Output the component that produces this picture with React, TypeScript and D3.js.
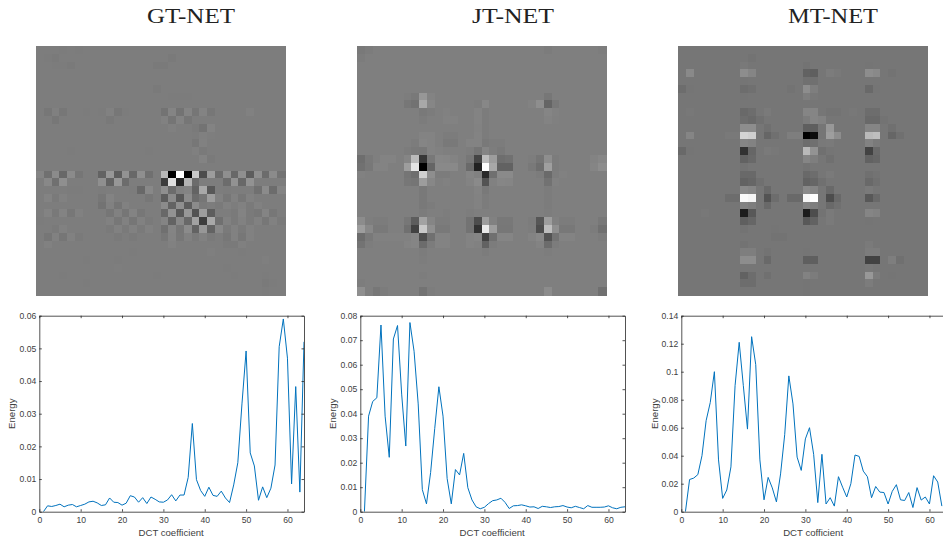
import * as d3 from 'd3';
import { useEffect, useRef } from 'react';

// heat map cells: one entry per row, grey offset from the panel background, by column
const gtRows: any[] = [
  { 3: -2, 5: -3 },
  { 1: -3, 2: -5, 17: -4 },
  { 2: -3, 3: -2, 4: -4, 15: -4, 16: -4 },
  {},
  {},
  { 15: -4 },
  { 17: -3, 18: -3, 19: -3 },
  {},
  { 1: -8, 2: 4, 3: -8, 6: -3, 8: -3, 9: 5, 10: -8, 11: -3, 16: -15, 17: 10, 18: -15, 19: 10, 20: -10, 21: 8, 22: -8, 27: 5 },
  { 2: -8, 9: -6, 16: 6, 17: -12, 18: 8, 19: -10 },
  { 17: 4, 20: -5, 21: -15, 22: 8 },
  { 20: -3, 21: 4, 22: 2 },
  { 20: -8, 21: 5 },
  { 4: -3, 14: -3, 20: 4, 21: -4 },
  { 21: 8, 22: -5 },
  {},
  [10, -20, 20, -30, 20, -10, 0, 0, -35, 35, -40, 30, -30, 25, -20, 0, 65, -125, 130, -125, 80, -55, 40, -25, 25, -30, 25, -40, 25, -25, 20, -15],
  [0, 15, -20, 25, 0, 0, 0, 0, 25, -35, 35, -25, 0, 0, 0, 0, -70, 100, -90, 60, -25, 0, 0, 0, -25, 30, -30, 30, 0, 0, 0, 0],
  [0, 0, 0, 0, -3, -3, 0, 0, -3, 0, 0, 0, -3, -30, 15, 0, 25, -25, 5, 10, -35, 50, -45, 0, -3, 0, 0, 0, -20, 20, -25, 10],
  [0, 8, -4, 6, 0, 0, 0, 0, -8, 8, 0, 0, 0, 0, -8, 0, -40, 20, -45, 20, -25, -10, 40, 5, -8, 5, -8, 5, 0, 0, 0, 0],
  [0, 0, 0, 0, 0, 0, 0, 0, -15, 5, -12, 5, 0, 0, 0, 0, 20, -35, 25, -40, 20, -5, 0, -5, 5, 0, 5, -5, 5, 0, 0, 0],
  [0, 8, -6, 8, -8, 6, 0, 0, 0, -10, 5, -10, 8, -8, 0, 0, -30, 30, -45, 35, -50, 40, -40, 0, 0, -5, 8, -5, -8, 10, -8, 0],
  [-2, 0, 0, 0, 0, 0, 0, 0, 0, 5, -8, 5, -10, 5, -5, 0, 10, -35, 15, -30, 45, -70, 50, -20, 5, -5, 5, -5, 5, -8, 5, -5],
  [0, 0, -5, 5, 0, 0, 0, 0, 0, -5, 5, -5, 5, -5, 5, 0, -20, 10, -10, 20, -35, 35, -35, 15, -5, 5, -5, 5, 0, 0, 0, 0],
  [0, -10, 5, -10, 5, -5, 0, 0, 0, 0, -5, 0, -5, 0, 0, 0, -8, 8, -8, 5, -5, 5, -5, 0, -8, 5, -8, 5, 0, 0, 0, 0],
  { 1: 6, 17: 6, 24: -4, 25: -4, 26: 4 },
  { 12: -3, 22: 3, 26: -3 },
  { 6: -3, 10: -3, 29: 3 },
  { 10: 2, 24: -3 },
  { 3: -3, 15: -2, 25: -3, 29: -3 },
  { 6: -3, 29: -4, 30: -3 },
  { 29: -3 },
];

const jtRows: any[] = [
  { 0: -8, 1: -5, 24: -5, 31: -3 },
  { 0: -4 },
  {},
  {},
  {},
  {},
  { 6: -3, 7: -8, 8: 33, 9: 5, 24: -12 },
  { 6: -12, 7: -18, 8: 48, 9: 10, 15: -3, 16: 12, 22: 4, 23: 22, 24: -35, 25: -10 },
  { 8: -8, 9: -6, 11: 3, 15: 6, 16: -5, 24: 8, 25: 3 },
  { 8: -5, 11: 4, 12: 4, 15: 6, 16: -6, 24: 5, 25: 2 },
  { 15: 4, 16: -5 },
  { 8: 5, 9: 5, 11: -6, 12: -6, 15: 5, 16: -5 },
  { 7: -5, 8: 8, 9: 6, 11: -8, 12: -8, 14: 5, 15: 5, 16: -8, 17: -6, 18: -4 },
  { 6: -5, 7: -8, 8: -10, 9: 5, 10: 3, 14: -3, 15: -15, 16: 8, 17: -3, 18: -8 },
  [-25, -8, 0, 5, 5, 0, 8, 65, -75, -10, 12, 10, 5, 0, -12, -65, 68, 38, -25, -20, 0, 0, -3, -15, 22, -5, 0, 0, 0, 0, 5, 12],
  [-20, -10, 5, 5, 0, 0, 38, 103, -127, -35, 14, 14, 14, 0, -30, -97, 128, 48, -37, -37, 0, 0, -8, -25, 40, -5, 0, 0, 0, 0, 8, 20],
  [3, 0, 0, 0, 0, 0, -15, -25, 85, 22, -5, -5, 0, 0, 8, 3, -87, -22, 15, 15, 0, 0, 0, -5, -30, -3, 3, 0, 0, 0, 0, 0],
  { 6: -12, 7: -15, 8: 38, 9: 12, 11: 3, 14: 5, 15: 16, 16: -52, 17: 3, 18: 10, 19: 8, 24: -18, 25: 3 },
  { 8: -8, 15: 5, 16: -8, 24: -5 },
  { 8: -8, 15: 4, 16: -6, 24: -4 },
  { 8: -8, 9: -4, 15: 4, 16: -6, 24: -4 },
  { 8: -5, 11: -3, 14: -3, 24: -3 },
  [18, -2, -6, -6, 0, 0, -12, -42, 43, 8, -5, -5, 0, 0, -17, -57, 38, 3, -10, -10, 0, 0, -5, -47, 38, 3, -5, -5, 0, 0, 0, -10],
  [38, 13, -8, -8, 0, 0, -22, -67, 78, 23, -8, -8, 0, 0, -17, -82, 108, 38, -12, -12, 0, 0, -3, -57, 68, 23, -10, -10, 0, 0, -5, -22],
  [-27, -8, 3, 3, 3, 3, 3, 8, -57, -22, 5, 5, 0, 0, 5, 8, -67, -22, 8, 8, 0, 0, 5, 13, -52, -17, 5, 5, 0, 0, 0, -5],
  { 0: -17, 1: -3, 6: 5, 7: 8, 8: -27, 9: -5, 10: 5, 11: 5, 14: 5, 15: 3, 16: -37, 17: -5, 23: 5, 24: -27, 25: -5 },
  { 8: -5, 16: -4, 24: -3 },
  { 8: -3 },
  {},
  { 8: -3 },
  { 0: -3 },
  { 0: 23, 2: -12, 3: -5, 8: -17, 9: -3, 24: 18, 31: -22 },
];

const mtRows: any[] = [
  {},
  { 9: -5 },
  { 8: 4, 16: -4, 24: -2 },
  { 1: 27, 8: 32, 9: 22, 16: -28, 17: -33, 19: 8, 20: 4, 24: 32, 25: 27, 27: -4 },
  { 8: -3, 16: -8, 17: -8 },
  { 0: -13, 1: -2, 8: -13, 9: -8, 14: -4, 16: 32, 17: 12, 24: -18, 25: -3 },
  { 8: -3, 16: 12, 17: 3 },
  {},
  { 1: 3, 8: -18, 9: -13, 11: 5, 16: 22, 17: 22, 19: -5, 20: -5, 22: 3, 24: -13, 25: -13 },
  { 8: -13, 9: -18, 10: -8, 16: 7, 17: 22, 18: 17, 24: -18, 25: -18, 26: -5 },
  { 8: 32, 9: 32, 11: -8, 16: -33, 17: -33, 19: 42, 24: 22, 25: 22, 27: -8 },
  { 1: 22, 6: 4, 7: 4, 8: 97, 9: 92, 11: -23, 12: -8, 14: 12, 15: 12, 16: -118, 17: -113, 19: 47, 20: 32, 24: 72, 25: 77, 27: -23, 28: -8 },
  { 8: 22, 9: 17, 16: -13, 17: -8, 18: 4, 19: 5, 24: 17, 25: 5 },
  { 0: -18, 1: -3, 8: -73, 9: -23, 11: 5, 12: 3, 16: 72, 17: 37, 18: -8, 19: -3, 24: -58, 25: -18 },
  { 8: -28, 9: -18, 16: 22, 17: 12, 19: -8, 24: -28, 25: -23 },
  { 8: -4, 16: -4 },
  { 8: -18, 9: -18, 16: -18, 17: -13, 19: 5, 24: -8, 25: -4 },
  { 8: -28, 9: -23, 10: -8, 16: -28, 17: -23, 18: -8, 24: -18, 25: -8 },
  { 8: 27, 9: 22, 11: -18, 16: 27, 17: 22, 19: -18, 24: 5 },
  { 6: -13, 7: -13, 8: 132, 9: 127, 11: -43, 12: -13, 14: -18, 15: -18, 16: 127, 17: 137, 19: -48, 20: -18, 24: -38, 25: -18 },
  { 8: 17, 9: 12, 11: -18, 16: 17, 17: 12, 19: -18, 20: -8 },
  { 3: 3, 8: -93, 9: -38, 16: -93, 17: -48, 18: -5, 19: 5, 24: 22, 25: 17 },
  { 8: -33, 9: -23, 16: -38, 17: -28, 19: 5, 24: -3 },
  { 8: -5, 12: -3 },
  { 12: -5, 13: -5 },
  { 8: -5, 24: 5 },
  { 8: 12, 9: 12, 11: -5, 16: -3, 24: 8, 25: 8 },
  { 8: 32, 9: 32, 11: -18, 16: -33, 17: -33, 24: -58, 25: -58, 27: 12, 28: -8 },
  { 24: 3 },
  { 8: -28, 9: -13, 11: -8, 16: 17, 17: 7, 24: 42, 25: 7, 27: -3 },
  { 8: -13, 9: -13, 16: -3, 24: 8 },
  { 16: -3 },
];

// energy curves, first value is coefficient 1
const gtEnergy = [
  0, 0.0018, 0.0016, 0.0019, 0.0023, 0.0015, 0.002, 0.0022, 0.0015, 0.0019, 0.0023, 0.003, 0.0032, 0.0027, 0.0019, 0.0021,
  0.0042, 0.0029, 0.0028, 0.002, 0.0026, 0.0049, 0.0045, 0.0029, 0.0043, 0.0025, 0.0045, 0.0038, 0.003, 0.0029, 0.0036, 0.0052,
  0.0033, 0.0051, 0.0051, 0.0105, 0.027, 0.0098, 0.0065, 0.0047, 0.0075, 0.005, 0.0047, 0.0063, 0.0042, 0.0028, 0.0082, 0.015,
  0.033, 0.0492, 0.018, 0.014, 0.0035, 0.0076, 0.0043, 0.0072, 0.0143, 0.0505, 0.059, 0.047, 0.0085, 0.0383, 0.006, 0.052,
];
const jtEnergy = [
  0, 0.039, 0.045, 0.0465, 0.0762, 0.039, 0.0222, 0.0705, 0.076, 0.048, 0.0268, 0.0772, 0.0655, 0.044, 0.009, 0.0032,
  0.016, 0.034, 0.051, 0.039, 0.0135, 0.0032, 0.0172, 0.015, 0.0238, 0.0098, 0.0048, 0.002, 0.0012, 0.0018, 0.0033, 0.0045,
  0.0048, 0.0055, 0.0038, 0.0013, 0.0024, 0.0025, 0.0028, 0.0024, 0.0019, 0.002, 0.0013, 0.0022, 0.002, 0.0017, 0.002, 0.0021,
  0.0025, 0.0019, 0.0016, 0.0022, 0.0017, 0.0012, 0.0025, 0.0018, 0.0018, 0.0018, 0.0019, 0.0024, 0.0016, 0.0012, 0.0018, 0.002,
];
const mtEnergy = [
  0, 0.023, 0.024, 0.0265, 0.04, 0.065, 0.078, 0.1, 0.037, 0.0095, 0.0155, 0.032, 0.09, 0.121, 0.09, 0.059,
  0.125, 0.105, 0.037, 0.0085, 0.0245, 0.017, 0.007, 0.027, 0.055, 0.097, 0.077, 0.039, 0.0295, 0.052, 0.06, 0.041,
  0.0065, 0.041, 0.0055, 0.01, 0.004, 0.025, 0.0175, 0.0105, 0.02, 0.0405, 0.0395, 0.029, 0.025, 0.01, 0.018, 0.014,
  0.0137, 0.0055, 0.0145, 0.0193, 0.0085, 0.008, 0.0137, 0.003, 0.0172, 0.0083, 0.0105, 0.0055, 0.0257, 0.0212, 0.004,
];

const xTicks = [0, 10, 20, 30, 40, 50, 60];
const gtTicks = [0, 0.01, 0.02, 0.03, 0.04, 0.05, 0.06];
const jtTicks = [0, 0.01, 0.02, 0.03, 0.04, 0.05, 0.06, 0.07, 0.08];
const mtTicks = [0, 0.02, 0.04, 0.06, 0.08, 0.1, 0.12, 0.14];

const panels = [
  { title: 'GT-NET', titleX: 191, titleW: 88, rows: gtRows, base: 125, imageX: 36, energy: gtEnergy, ticks: gtTicks, yMax: 0.06, plotX: 39.3, xLabel: 'DCT coefficient', labelX: 12 },
  { title: 'JT-NET', titleX: 513, titleW: 82, rows: jtRows, base: 127, imageX: 357, energy: jtEnergy, ticks: jtTicks, yMax: 0.08, plotX: 360.3, xLabel: 'DCT coefficient', labelX: 333 },
  { title: 'MT-NET', titleX: 833, titleW: 90, rows: mtRows, base: 118, imageX: 678, energy: mtEnergy, ticks: mtTicks, yMax: 0.14, plotX: 681.3, xLabel: 'DCT cofficient', labelX: 655 },
];

const App = () => {
  const svgRef = useRef<SVGSVGElement>(null);

  useEffect(() => {
    const svg = d3.select(svgRef.current);
    svg.selectAll('*').remove();

    const indices = d3.range(32);
    const imageSize = 249;
    const plotWidth = 264.7;
    const plotTop = 315.7;
    const plotBottom = 511.7;
    const font = '"Liberation Sans", Arial, sans-serif';
    const axisColor = '#262626';

    // the reference images are a little soft
    svg.append('filter').attr('id', 'soften')
      .attr('x', 0).attr('y', 0).attr('width', 1).attr('height', 1)
      .append('feGaussianBlur')
      .attr('stdDeviation', 0.55);

    panels.forEach((p, i) => {
      svg.append('text')
        .attr('x', p.titleX)
        .attr('y', 22.5)
        .attr('text-anchor', 'middle')
        .attr('font-family', '"Liberation Serif", serif')
        .attr('font-size', 20.5)
        .attr('textLength', p.titleW)
        .attr('lengthAdjust', 'spacingAndGlyphs')
        .attr('fill', '#222')
        .text(p.title);

      // heat map
      const col = d3.scaleBand<number>().domain(indices).range([p.imageX, p.imageX + imageSize]);
      const row = d3.scaleBand<number>().domain(indices).range([46, 46 + imageSize]);
      // weak cells are drawn flatter, strong ones keep their full range
      const grey = d3.scaleLinear().domain([-130, -30, 30, 130]).range([-130, -21, 21, 130]);
      const cells = indices.flatMap(r => indices.map(c => ({ r, c, v: p.base + grey(p.rows[r]?.[c] ?? 0) })));
      svg.append('g')
        .attr('filter', 'url(#soften)')
        .attr('shape-rendering', 'crispEdges')
        .selectAll('rect')
        .data(cells)
        .join('rect')
        .attr('x', d => col(d.c)!)
        .attr('y', d => row(d.r)!)
        .attr('width', col.bandwidth() + 0.5)
        .attr('height', row.bandwidth() + 0.5)
        .attr('fill', d => {
          const g = Math.max(0, Math.min(255, Math.round(d.v)));
          return `rgb(${g},${g},${g})`;
        });

      // energy plot
      const x = d3.scaleLinear().domain([0, 64]).range([p.plotX, p.plotX + plotWidth]);
      const y = d3.scaleLinear().domain([0, p.yMax]).range([plotBottom, plotTop]);

      const clipId = 'plot-clip-' + i;
      svg.append('clipPath').attr('id', clipId)
        .append('rect')
        .attr('x', p.plotX)
        .attr('y', plotTop)
        .attr('width', plotWidth)
        .attr('height', plotBottom - plotTop);

      const line = d3.line<number>().x((_, k) => x(k + 1)).y(d => y(d));
      svg.append('path')
        .datum(p.energy)
        .attr('clip-path', `url(#${clipId})`)
        .attr('d', line)
        .attr('fill', 'none')
        .attr('stroke', '#0072BD')
        .attr('stroke-width', 1)
        .attr('stroke-linejoin', 'miter');

      const bottom = svg.append('g')
        .attr('transform', `translate(0,${plotBottom})`)
        .call(d3.axisBottom(x).tickValues(xTicks).tickSizeInner(-2.5).tickSizeOuter(0).tickPadding(5));
      svg.append('g')
        .attr('transform', `translate(0,${plotTop})`)
        .call(d3.axisTop(x).tickValues(xTicks).tickSizeInner(-2.5).tickSizeOuter(0).tickFormat(() => ''));
      const left = svg.append('g')
        .attr('transform', `translate(${p.plotX},0)`)
        .call(d3.axisLeft(y).tickValues(p.ticks).tickSizeInner(-2.5).tickSizeOuter(0).tickPadding(3).tickFormat(d => String(d)));
      svg.append('g')
        .attr('transform', `translate(${p.plotX + plotWidth},0)`)
        .call(d3.axisRight(y).tickValues(p.ticks).tickSizeInner(-2.5).tickSizeOuter(0).tickFormat(() => ''));

      svg.selectAll('.domain, .tick line').attr('stroke', axisColor).attr('stroke-width', 0.8);
      [bottom, left].forEach(a => a.selectAll('text')
        .attr('font-family', font)
        .attr('font-size', 8.6)
        .attr('fill', '#404040'));

      svg.append('text')
        .attr('x', p.plotX + plotWidth / 2 - 0.5)
        .attr('y', 536)
        .attr('text-anchor', 'middle')
        .attr('font-family', font)
        .attr('font-size', 9.6)
        .attr('fill', '#404040')
        .text(p.xLabel);
      svg.append('text')
        .attr('transform', `translate(${p.labelX + 3},${(plotTop + plotBottom) / 2}) rotate(-90)`)
        .attr('text-anchor', 'middle')
        .attr('font-family', font)
        .attr('font-size', 9.6)
        .attr('fill', '#404040')
        .text('Energy');
    });
  }, []);

  return <svg ref={svgRef} width={943} height={542} style={{ position: 'absolute', left: 0, top: 0 }} />;
};

export default App;
